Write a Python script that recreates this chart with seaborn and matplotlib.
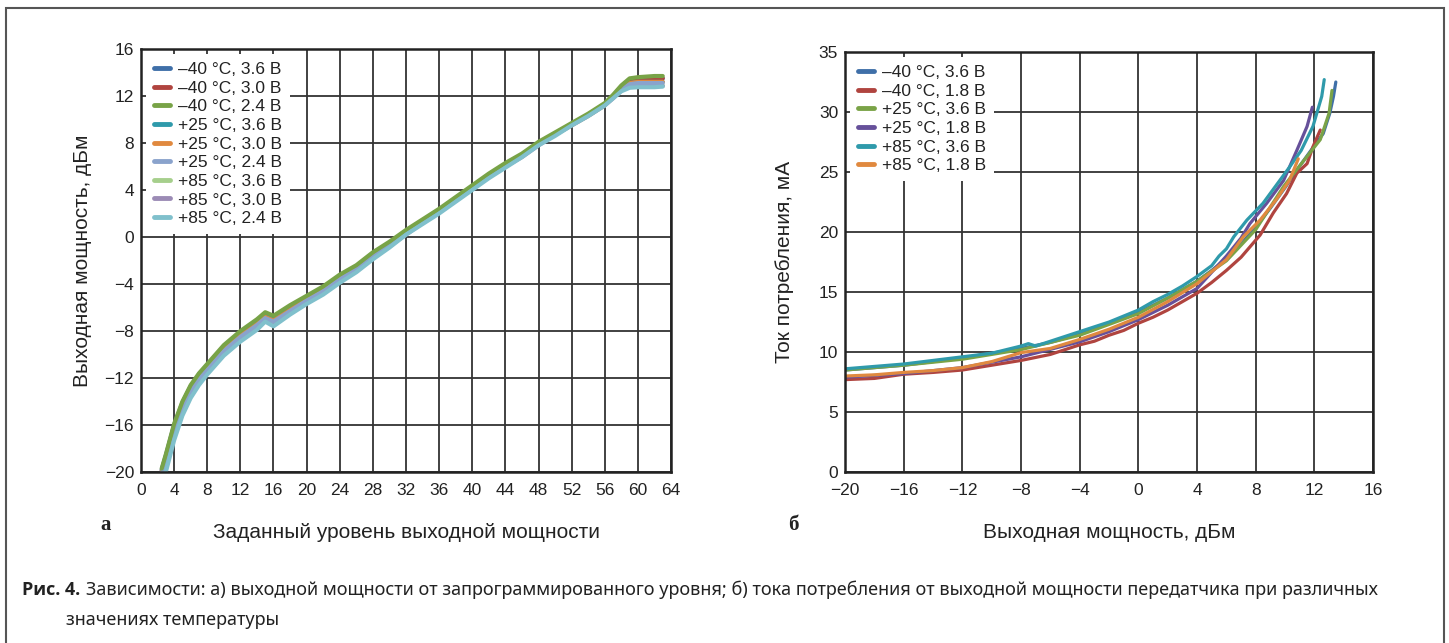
import matplotlib
matplotlib.use("Agg")
import matplotlib.pyplot as plt
import seaborn as sns
import pandas as pd
from matplotlib.patches import Rectangle

# ---- panel a: output power vs programmed level ----
level = [2.5, 3, 4, 5, 6, 7, 8, 10, 12, 14, 15, 16, 18, 20, 22, 24, 26, 28, 30,
         32, 34, 36, 38, 40, 42, 44, 46, 48, 50, 52, 54, 56, 57, 58, 59, 60, 62, 63]

a_labels = ["\u201340 \u00b0C, 3.6 В", "\u201340 \u00b0C, 3.0 В", "\u201340 \u00b0C, 2.4 В",
            "+25 \u00b0C, 3.6 В", "+25 \u00b0C, 3.0 В", "+25 \u00b0C, 2.4 В",
            "+85 \u00b0C, 3.6 В", "+85 \u00b0C, 3.0 В", "+85 \u00b0C, 2.4 В"]
a_colors = ["#3f6fa8", "#b0443f", "#78a347", "#2f9aab", "#e0893f",
            "#8aa3cc", "#a6cf8c", "#9b8bb5", "#80c0cc"]

m40_36 = [-19.8, -18.6, -16.0, -14.1, -12.7, -11.7, -10.9, -9.3, -8.1, -7.1, -6.5, -6.8, -5.9, -5.1,
          -4.3, -3.3, -2.5, -1.4, -0.5, 0.5, 1.4, 2.3, 3.3, 4.3, 5.3, 6.2, 7.0, 8.0, 8.8, 9.6,
          10.4, 11.3, 12.0, 12.8, 13.3, 13.4, 13.5, 13.5]
m40_30 = [-19.9, -18.7, -16.1, -14.2, -12.8, -11.8, -11.0, -9.4, -8.2, -7.2, -6.6, -6.9, -6.0, -5.2,
          -4.4, -3.4, -2.6, -1.5, -0.6, 0.5, 1.4, 2.3, 3.3, 4.3, 5.3, 6.2, 7.0, 8.0, 8.8, 9.6,
          10.4, 11.3, 12.0, 12.8, 13.3, 13.4, 13.5, 13.5]
m40_24 = [-19.7, -18.5, -15.9, -14.0, -12.6, -11.6, -10.8, -9.2, -8.0, -7.0, -6.4, -6.7, -5.8, -5.0,
          -4.2, -3.2, -2.4, -1.3, -0.4, 0.6, 1.5, 2.4, 3.4, 4.4, 5.4, 6.3, 7.1, 8.1, 8.9, 9.7,
          10.5, 11.4, 12.1, 12.9, 13.5, 13.6, 13.7, 13.7]
p25_36 = [-20.0, -18.8, -16.2, -14.3, -12.9, -11.9, -11.1, -9.5, -8.3, -7.3, -6.7, -7.0, -6.1, -5.2,
          -4.4, -3.4, -2.6, -1.5, -0.6, 0.4, 1.4, 2.3, 3.3, 4.3, 5.3, 6.2, 7.0, 8.0, 8.8, 9.6,
          10.4, 11.3, 12.0, 12.7, 13.1, 13.2, 13.2, 13.2]
p25_30 = [-20.1, -18.9, -16.3, -14.4, -13.0, -12.0, -11.2, -9.6, -8.4, -7.4, -6.8, -7.1, -6.2, -5.3,
          -4.5, -3.5, -2.7, -1.6, -0.7, 0.4, 1.3, 2.2, 3.2, 4.2, 5.2, 6.1, 7.0, 7.9, 8.8, 9.6,
          10.4, 11.3, 12.0, 12.7, 13.1, 13.2, 13.2, 13.2]
p25_24 = [-20.2, -19.0, -16.4, -14.5, -13.1, -12.1, -11.3, -9.7, -8.5, -7.5, -6.9, -7.2, -6.3, -5.4,
          -4.6, -3.6, -2.7, -1.7, -0.7, 0.3, 1.3, 2.2, 3.2, 4.2, 5.2, 6.1, 6.9, 7.9, 8.7, 9.6,
          10.4, 11.3, 11.9, 12.6, 13.0, 13.1, 13.1, 13.1]
p85_36 = [-20.6, -19.3, -16.7, -14.7, -13.3, -12.3, -11.4, -9.8, -8.6, -7.6, -7.0, -7.3, -6.4, -5.5,
          -4.7, -3.7, -2.8, -1.8, -0.8, 0.3, 1.2, 2.1, 3.1, 4.1, 5.1, 6.0, 6.9, 7.9, 8.7, 9.5,
          10.3, 11.2, 11.9, 12.5, 12.9, 12.9, 12.9, 12.9]
p85_30 = [-21.0, -19.6, -17.0, -14.9, -13.5, -12.4, -11.5, -9.9, -8.7, -7.7, -7.1, -7.4, -6.5, -5.6,
          -4.8, -3.8, -2.9, -1.8, -0.8, 0.2, 1.2, 2.1, 3.1, 4.1, 5.1, 6.0, 6.8, 7.8, 8.7, 9.5,
          10.3, 11.2, 11.8, 12.5, 12.8, 12.85, 12.85, 12.85]
p85_24 = [-21.5, -20.0, -17.3, -15.2, -13.7, -12.6, -11.7, -10.1, -8.9, -7.9, -7.2, -7.6, -6.6, -5.7,
          -4.9, -3.9, -3.0, -1.9, -0.9, 0.2, 1.1, 2.0, 3.0, 4.0, 5.0, 5.9, 6.8, 7.8, 8.6, 9.5,
          10.3, 11.2, 11.8, 12.4, 12.7, 12.75, 12.75, 12.8]
a_series = [m40_36, m40_30, m40_24, p25_36, p25_30, p25_24, p85_36, p85_30, p85_24]
# drawing order so the top and bottom envelopes show like in the original
a_order = [0, 1, 3, 4, 6, 7, 5, 2, 8]

# ---- panel b: supply current vs output power ----
b_labels = ["\u201340 \u00b0C, 3.6 В", "\u201340 \u00b0C, 1.8 В", "+25 \u00b0C, 3.6 В",
            "+25 \u00b0C, 1.8 В", "+85 \u00b0C, 3.6 В", "+85 \u00b0C, 1.8 В"]
b_colors = ["#3f6fa8", "#b0443f", "#7aa347", "#66509a", "#2f9aab", "#e0893f"]

b_x_m40_36 = [-20, -18, -16, -14, -12, -10, -8, -6, -4, -2, 0, 1, 2, 3, 4, 5, 6, 7, 8, 9, 10,
              11, 12, 12.6, 13.05, 13.3, 13.46]
b_y_m40_36 = [8.5, 8.7, 8.9, 9.2, 9.5, 9.9, 10.3, 10.8, 11.5, 12.4, 13.3, 13.9, 14.5, 15.2, 15.9,
              16.8, 17.8, 19.0, 20.4, 22.0, 23.7, 25.5, 27.2, 28.2, 29.9, 31.3, 32.5]
b_x_m40_18 = [-20, -18, -16, -14, -12, -10, -8, -6, -4, -3, -2, -1, 0, 1, 2, 3, 4, 5, 6, 7, 8.3,
              9.2, 10.1, 10.8, 11.5, 11.9, 12.4]
b_y_m40_18 = [7.7, 7.8, 8.15, 8.3, 8.5, 8.9, 9.3, 9.8, 10.6, 10.9, 11.4, 11.8, 12.4, 12.9, 13.5,
              14.2, 14.9, 15.8, 16.8, 17.9, 19.75, 21.6, 23.2, 24.9, 25.7, 27.1, 28.5]
b_x_p25_36 = [-20, -16, -12, -8, -4, -2, 0, 2, 4, 6, 8, 9.9, 10.6, 11.5, 12.4, 13.0, 13.2]
b_y_p25_36 = [8.5, 8.9, 9.4, 10.2, 11.4, 12.3, 13.2, 14.5, 15.9, 17.6, 20.2, 23.8, 24.9, 26.3,
              27.7, 29.9, 31.8]
b_x_p25_18 = [-20, -16, -12, -8, -4, -2, 0, 2, 4, 6, 7, 7.6, 8.75, 9.9, 10.8, 11.5, 11.86]
b_y_p25_18 = [7.9, 8.2, 8.7, 9.6, 10.85, 11.7, 12.7, 13.9, 15.3, 18.0, 19.5, 20.7, 22.4, 24.3,
              26.8, 28.8, 30.4]
b_x_p85_36 = [-20, -18, -16, -14, -12, -10, -8, -7.5, -7, -6, -4, -2, 0, 1, 2, 3, 4, 5, 5.5, 6,
              6.5, 7.4, 8.5, 9.4, 10.3, 11.1, 11.9, 12.5, 12.67]
b_y_p85_36 = [8.6, 8.8, 9.0, 9.3, 9.6, 9.9, 10.5, 10.7, 10.5, 10.9, 11.7, 12.5, 13.5, 14.2, 14.8,
              15.5, 16.3, 17.2, 18.0, 18.6, 19.6, 21.0, 22.4, 23.9, 25.4, 26.8, 28.8, 31.3, 32.7]
b_x_p85_18 = [-20, -18, -16, -14, -12, -10, -8, -6, -4, -2, 0, 2, 4, 6, 7.15, 8.3, 9.4, 10.3, 10.9]
b_y_p85_18 = [8.0, 8.1, 8.3, 8.45, 8.7, 9.2, 9.95, 10.3, 11.05, 11.9, 12.9, 14.2, 15.7, 17.7,
              19.6, 21.0, 22.7, 24.3, 26.1]
b_series = [(b_x_m40_36, b_y_m40_36), (b_x_m40_18, b_y_m40_18), (b_x_p25_36, b_y_p25_36),
            (b_x_p25_18, b_y_p25_18), (b_x_p85_36, b_y_p85_36), (b_x_p85_18, b_y_p85_18)]

caption_1 = ("Зависимости: а) выходной мощности от запрограммированного уровня; б) тока потребления "
             "от выходной мощности передатчика при различных")
caption_2 = "значениях температуры"

sns.set_style("white")
plt.rcParams["font.family"] = ["Liberation Sans", "DejaVu Sans"]
plt.rcParams["axes.unicode_minus"] = True
text_color = "#222222"
font_size_value = 12.5

fig = plt.figure(figsize=(14.49, 6.43), dpi=100)
ax_a = fig.add_axes([0.0973, 0.2659, 0.3658, 0.6579])
ax_b = fig.add_axes([0.5832, 0.2659, 0.3644, 0.6532])

for i in a_order:
    df = pd.DataFrame({"x": level, "y": a_series[i]})
    sns.lineplot(data=df, x="x", y="y", ax=ax_a, color=a_colors[i], linewidth=3.0,
                 sort=False, estimator=None, label=a_labels[i])

for i, (xs, ys) in enumerate(b_series):
    df = pd.DataFrame({"x": xs, "y": ys})
    sns.lineplot(data=df, x="x", y="y", ax=ax_b, color=b_colors[i], linewidth=2.3,
                 sort=False, estimator=None, label=b_labels[i])

ax_a.set_xlim(0, 64)
ax_a.set_ylim(-20, 16)
ax_a.set_xticks(range(0, 65, 4))
ax_a.set_yticks(range(-20, 17, 4))
ax_b.set_xlim(-20, 16)
ax_b.set_ylim(0, 35)
ax_b.set_xticks(range(-20, 17, 4))
ax_b.set_yticks(range(0, 36, 5))

for ax, labels, colors in [(ax_a, a_labels, a_colors), (ax_b, b_labels, b_colors)]:
    ax.grid(True, color="#333333", linewidth=1.3)
    ax.set_axisbelow(True)
    for sp in ax.spines.values():
        sp.set_color("#222222")
        sp.set_linewidth(1.8)
    ax.tick_params(length=0, labelsize=font_size_value, colors=text_color)
    ax.tick_params(axis="x", pad=8)
    ax.tick_params(axis="y", pad=5)
    handles = [plt.Line2D([], [], color=c, linewidth=3.5) for c in colors]
    leg = ax.legend(handles, labels, loc="upper left", fontsize=font_size_value,
                    frameon=True, framealpha=1, facecolor="white", edgecolor="none",
                    labelspacing=0.2, handlelength=0.9, handletextpad=0.5,
                    borderpad=0.45, borderaxespad=0.3, fancybox=False)
    for t in leg.get_texts():
        t.set_color(text_color)

ax_a.set_xlabel("Заданный уровень выходной мощности", fontsize=15, color=text_color, labelpad=18)
ax_a.set_ylabel("Выходная мощность, дБм", fontsize=15, color=text_color, labelpad=9)
ax_b.set_xlabel("Выходная мощность, дБм", fontsize=15, color=text_color, labelpad=18)
ax_b.set_ylabel("Ток потребления, мА", fontsize=15, color=text_color, labelpad=18)

fig.text(100 / 1449, 1 - 525 / 643, "а", fontsize=15, fontweight="bold",
         family="Liberation Serif", color=text_color, va="center")
fig.text(788 / 1449, 1 - 525 / 643, "б", fontsize=15, fontweight="bold",
         family="Liberation Serif", color=text_color, va="center")

cap_font = ["Open Sans", "Noto Sans", "DejaVu Sans"]
fig.text(22 / 1449, 1 - 590 / 643, "Рис. 4.", fontsize=13, fontweight="bold",
         family=cap_font, color=text_color, va="center")
fig.text(86 / 1449, 1 - 590 / 643, caption_1, fontsize=13,
         family=["Noto Sans", "DejaVu Sans"], color=text_color, va="center")
fig.text(66 / 1449, 1 - 620 / 643, caption_2, fontsize=13,
         family=["Noto Sans", "DejaVu Sans"], color=text_color, va="center")

fig.patches.append(Rectangle((6 / 1449, -0.05), 1438 / 1449, 1 - 8 / 643 + 0.05,
                             transform=fig.transFigure, fill=False, edgecolor="#555555",
                             linewidth=1.5, clip_on=False))

fig.savefig("out.png", dpi=100)
